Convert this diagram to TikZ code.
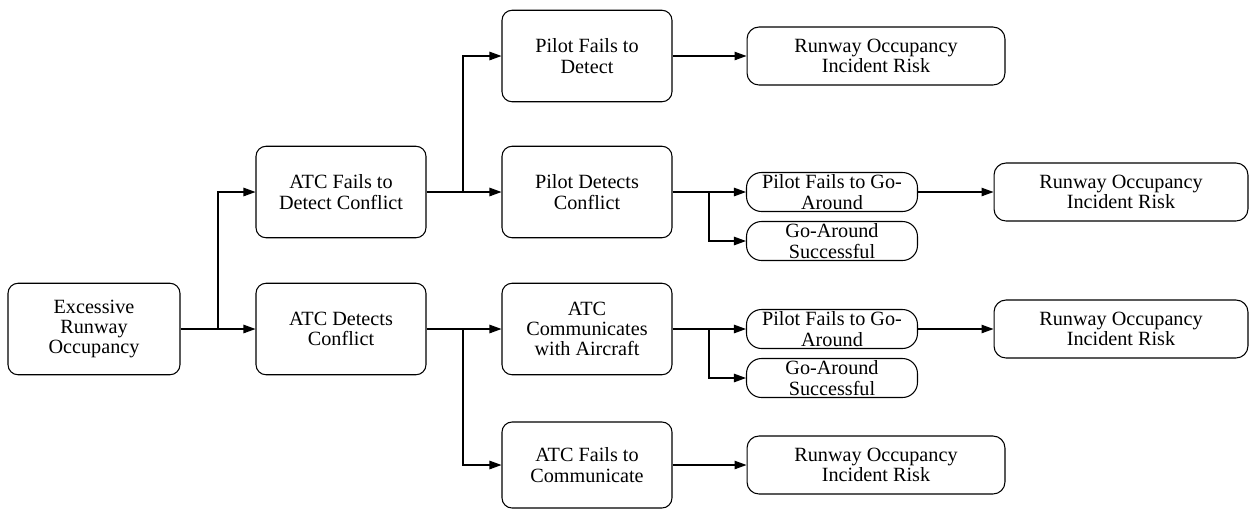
\documentclass[tikz,border=0pt]{standalone}
\usepackage{fontspec}
\setmainfont{Liberation Serif}
\newfontfamily\boxfont{Liberation Serif}
\usepackage{tikz}
\usetikzlibrary{arrows.meta}
\tikzset{
  evbox/.style={draw, line width=0.6pt, rounded corners=0.2cm, minimum width=3.4cm, minimum height=1.83cm, inner sep=1pt, align=center, font=\boxfont\fontsize{11.5}{11.5}\selectfont},
  riskbox/.style={draw, line width=0.6pt, rounded corners=0.24cm, minimum width=5.1cm, minimum height=1.16cm, inner sep=1pt, align=center, font=\boxfont\fontsize{11.5}{11.5}\selectfont},
  smallbox/.style={draw, line width=0.6pt, rounded corners=0.3cm, minimum width=3.42cm, minimum height=0.78cm, inner sep=0pt, align=center, font=\boxfont\fontsize{11.5}{11.5}\selectfont},
  conn/.style={draw, line width=0.6pt, -{Triangle[length=0.24cm,width=0.17cm]}},
}
\begin{document}
\begin{tikzpicture}[x=0.02cm,y=-0.02cm]
  \useasboundingbox (0,0) rectangle (1249,508);
  % events
  \node[evbox, minimum width=3.44cm] (exc) at (94,329) {Excessive\\Runway\\Occupancy};
  \node[evbox] (afd) at (341,192) {ATC Fails to\\Detect Conflict};
  \node[evbox] (adc) at (341,329) {ATC Detects\\Conflict};
  \node[evbox] (pfd) at (587,56) {Pilot Fails to\\Detect};
  \node[evbox] (pdc) at (587,192) {Pilot Detects\\Conflict};
  \node[evbox] (acw) at (587,329) {ATC\\Communicates\\with Aircraft};
  \node[evbox, minimum height=1.72cm] (afc) at (587,465) {ATC Fails to\\Communicate};
  % go-around outcomes
  \node[smallbox] (pfga) at (832,192) {Pilot Fails to Go-\\Around};
  \node[smallbox] (gasa) at (832,241) {Go-Around\\Successful};
  \node[smallbox] (pfgb) at (832,329) {Pilot Fails to Go-\\Around};
  \node[smallbox] (gasb) at (832,378) {Go-Around\\Successful};
  % risks
  \node[riskbox, minimum width=5.16cm] (risa) at (876,56) {Runway Occupancy\\Incident Risk};
  \node[riskbox, minimum width=5.08cm] (risb) at (1121,192) {Runway Occupancy\\Incident Risk};
  \node[riskbox, minimum width=5.08cm] (risc) at (1121,329) {Runway Occupancy\\Incident Risk};
  \node[riskbox, minimum width=5.16cm] (risd) at (876,465) {Runway Occupancy\\Incident Risk};
  % junctions
  \coordinate (ja) at (218,329);
  \coordinate (jb) at (463,192);
  \coordinate (jc) at (463,329);
  \coordinate (jd) at (709,192);
  \coordinate (je) at (709,329);
  % connectors
  \draw[conn] (exc) -- (adc);
  \draw[conn] (ja) |- (afd);
  \draw[conn] (afd) -- (pdc);
  \draw[conn] (jb) |- (pfd);
  \draw[conn] (adc) -- (acw);
  \draw[conn] (jc) |- (afc);
  \draw[conn] (pfd) -- (risa);
  \draw[conn] (pdc) -- (pfga);
  \draw[conn] (jd) |- (gasa);
  \draw[conn] (pfga) -- (risb);
  \draw[conn] (acw) -- (pfgb);
  \draw[conn] (je) |- (gasb);
  \draw[conn] (pfgb) -- (risc);
  \draw[conn] (afc) -- (risd);
\end{tikzpicture}
\end{document}
